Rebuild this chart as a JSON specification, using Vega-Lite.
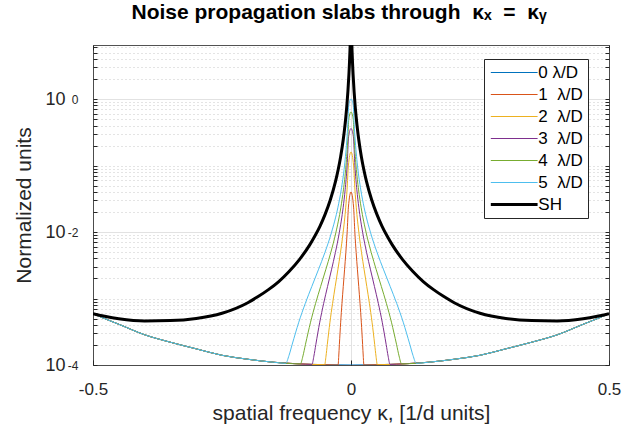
{
"$schema":"https://vega.github.io/schema/vega-lite/v6.json",
"width":516,"height":320,
"autosize":{"type":"none"},
"padding":{"left":93,"top":45,"right":25,"bottom":63},
"background":"white",
"config":{"font":"Liberation Sans","view":{"stroke":null}},
"title":{"text":"Noise propagation slabs through \u00a0κₓ \u00a0= \u00a0κᵧ","fontSize":21,"fontWeight":"bold","color":"#000000","offset":15,"anchor":"middle","dx":-12,"font":"Liberation Sans"},
"data":{"values":[
{"s":"0","k":-0.5,"v":0.00059},{"s":"0","k":-0.475,"v":0.00049},{"s":"0","k":-0.45,"v":0.00041},{"s":"0","k":-0.4,"v":0.000285},{"s":"0","k":-0.35,"v":0.00022},{"s":"0","k":-0.3,"v":0.000175},{"s":"0","k":-0.25,"v":0.00014},{"s":"0","k":-0.2,"v":0.000122},{"s":"0","k":-0.15,"v":0.00011},{"s":"0","k":-0.1,"v":0.000104},{"s":"0","k":-0.05,"v":0.000101},{"s":"0","k":0,"v":0.0001},{"s":"0","k":0.05,"v":0.000101},{"s":"0","k":0.1,"v":0.000104},{"s":"0","k":0.15,"v":0.00011},{"s":"0","k":0.2,"v":0.000122},{"s":"0","k":0.25,"v":0.00014},{"s":"0","k":0.3,"v":0.000175},{"s":"0","k":0.35,"v":0.00022},{"s":"0","k":0.4,"v":0.000285},{"s":"0","k":0.45,"v":0.00041},{"s":"0","k":0.475,"v":0.00049},{"s":"0","k":0.5,"v":0.00059},

{"s":"1","k":-0.5,"v":0.00059},{"s":"1","k":-0.475,"v":0.00049},{"s":"1","k":-0.45,"v":0.00041},{"s":"1","k":-0.4,"v":0.000285},{"s":"1","k":-0.35,"v":0.00022},{"s":"1","k":-0.3,"v":0.000175},{"s":"1","k":-0.25,"v":0.00014},{"s":"1","k":-0.2,"v":0.000122},{"s":"1","k":-0.15,"v":0.00011},{"s":"1","k":-0.1,"v":0.000104},{"s":"1","k":-0.05,"v":0.000101},{"s":"1","k":-0.025,"v":0.0001},{"s":"1","k":-0.02375,"v":0.000136},{"s":"1","k":-0.0225,"v":0.000204},{"s":"1","k":-0.02,"v":0.00044},{"s":"1","k":-0.0175,"v":0.000845},{"s":"1","k":-0.015,"v":0.00152},{"s":"1","k":-0.0125,"v":0.0027},{"s":"1","k":-0.01,"v":0.00491},{"s":"1","k":-0.0075,"v":0.00975},{"s":"1","k":-0.005,"v":0.0237},{"s":"1","k":0,"v":0.04},{"s":"1","k":0.005,"v":0.0237},{"s":"1","k":0.0075,"v":0.00975},{"s":"1","k":0.01,"v":0.00491},{"s":"1","k":0.0125,"v":0.0027},{"s":"1","k":0.015,"v":0.00152},{"s":"1","k":0.0175,"v":0.000845},{"s":"1","k":0.02,"v":0.00044},{"s":"1","k":0.0225,"v":0.000204},{"s":"1","k":0.02375,"v":0.000136},{"s":"1","k":0.025,"v":0.0001},{"s":"1","k":0.05,"v":0.000101},{"s":"1","k":0.1,"v":0.000104},{"s":"1","k":0.15,"v":0.00011},{"s":"1","k":0.2,"v":0.000122},{"s":"1","k":0.25,"v":0.00014},{"s":"1","k":0.3,"v":0.000175},{"s":"1","k":0.35,"v":0.00022},{"s":"1","k":0.4,"v":0.000285},{"s":"1","k":0.45,"v":0.00041},{"s":"1","k":0.475,"v":0.00049},{"s":"1","k":0.5,"v":0.00059},

{"s":"2","k":-0.5,"v":0.00059},{"s":"2","k":-0.475,"v":0.00049},{"s":"2","k":-0.45,"v":0.00041},{"s":"2","k":-0.4,"v":0.000285},{"s":"2","k":-0.35,"v":0.00022},{"s":"2","k":-0.3,"v":0.000175},{"s":"2","k":-0.25,"v":0.00014},{"s":"2","k":-0.2,"v":0.000122},{"s":"2","k":-0.15,"v":0.00011},{"s":"2","k":-0.1,"v":0.000104},{"s":"2","k":-0.051,"v":0.000101},{"s":"2","k":-0.04845,"v":0.000136},{"s":"2","k":-0.0459,"v":0.000204},{"s":"2","k":-0.0408,"v":0.00044},{"s":"2","k":-0.0357,"v":0.000845},{"s":"2","k":-0.0306,"v":0.00152},{"s":"2","k":-0.0255,"v":0.0027},{"s":"2","k":-0.0204,"v":0.00491},{"s":"2","k":-0.0153,"v":0.00975},{"s":"2","k":-0.0102,"v":0.02362},{"s":"2","k":-0.00765,"v":0.04305},{"s":"2","k":-0.0051,"v":0.0986},{"s":"2","k":0,"v":0.16},{"s":"2","k":0.0051,"v":0.0986},{"s":"2","k":0.00765,"v":0.04305},{"s":"2","k":0.0102,"v":0.02362},{"s":"2","k":0.0153,"v":0.00975},{"s":"2","k":0.0204,"v":0.00491},{"s":"2","k":0.0255,"v":0.0027},{"s":"2","k":0.0306,"v":0.00152},{"s":"2","k":0.0357,"v":0.000845},{"s":"2","k":0.0408,"v":0.00044},{"s":"2","k":0.0459,"v":0.000204},{"s":"2","k":0.04845,"v":0.000136},{"s":"2","k":0.051,"v":0.000101},{"s":"2","k":0.1,"v":0.000104},{"s":"2","k":0.15,"v":0.00011},{"s":"2","k":0.2,"v":0.000122},{"s":"2","k":0.25,"v":0.00014},{"s":"2","k":0.3,"v":0.000175},{"s":"2","k":0.35,"v":0.00022},{"s":"2","k":0.4,"v":0.000285},{"s":"2","k":0.45,"v":0.00041},{"s":"2","k":0.475,"v":0.00049},{"s":"2","k":0.5,"v":0.00059},

{"s":"3","k":-0.5,"v":0.00059},{"s":"3","k":-0.475,"v":0.00049},{"s":"3","k":-0.45,"v":0.00041},{"s":"3","k":-0.4,"v":0.000285},{"s":"3","k":-0.35,"v":0.00022},{"s":"3","k":-0.3,"v":0.000175},{"s":"3","k":-0.25,"v":0.00014},{"s":"3","k":-0.2,"v":0.000122},{"s":"3","k":-0.15,"v":0.00011},{"s":"3","k":-0.1,"v":0.000104},{"s":"3","k":-0.0757,"v":0.000102},{"s":"3","k":-0.07192,"v":0.000136},{"s":"3","k":-0.06813,"v":0.000204},{"s":"3","k":-0.06056,"v":0.00044},{"s":"3","k":-0.05299,"v":0.000845},{"s":"3","k":-0.04542,"v":0.00152},{"s":"3","k":-0.03785,"v":0.0027},{"s":"3","k":-0.03028,"v":0.00491},{"s":"3","k":-0.02271,"v":0.00975},{"s":"3","k":-0.01514,"v":0.02362},{"s":"3","k":-0.01136,"v":0.04305},{"s":"3","k":-0.00757,"v":0.0986},{"s":"3","k":-0.00454,"v":0.2764},{"s":"3","k":0,"v":0.36},{"s":"3","k":0.00454,"v":0.2764},{"s":"3","k":0.00757,"v":0.0986},{"s":"3","k":0.01136,"v":0.04305},{"s":"3","k":0.01514,"v":0.02362},{"s":"3","k":0.02271,"v":0.00975},{"s":"3","k":0.03028,"v":0.00491},{"s":"3","k":0.03785,"v":0.0027},{"s":"3","k":0.04542,"v":0.00152},{"s":"3","k":0.05299,"v":0.000845},{"s":"3","k":0.06056,"v":0.00044},{"s":"3","k":0.06813,"v":0.000204},{"s":"3","k":0.07192,"v":0.000136},{"s":"3","k":0.0757,"v":0.000102},{"s":"3","k":0.1,"v":0.000104},{"s":"3","k":0.15,"v":0.00011},{"s":"3","k":0.2,"v":0.000122},{"s":"3","k":0.25,"v":0.00014},{"s":"3","k":0.3,"v":0.000175},{"s":"3","k":0.35,"v":0.00022},{"s":"3","k":0.4,"v":0.000285},{"s":"3","k":0.45,"v":0.00041},{"s":"3","k":0.475,"v":0.00049},{"s":"3","k":0.5,"v":0.00059},

{"s":"4","k":-0.5,"v":0.00059},{"s":"4","k":-0.475,"v":0.00049},{"s":"4","k":-0.45,"v":0.00041},{"s":"4","k":-0.4,"v":0.000285},{"s":"4","k":-0.35,"v":0.00022},{"s":"4","k":-0.3,"v":0.000175},{"s":"4","k":-0.25,"v":0.00014},{"s":"4","k":-0.2,"v":0.000122},{"s":"4","k":-0.15,"v":0.00011},{"s":"4","k":-0.098,"v":0.000104},{"s":"4","k":-0.0931,"v":0.000137},{"s":"4","k":-0.0882,"v":0.000205},{"s":"4","k":-0.0784,"v":0.00044},{"s":"4","k":-0.0686,"v":0.000845},{"s":"4","k":-0.0588,"v":0.00152},{"s":"4","k":-0.049,"v":0.0027},{"s":"4","k":-0.0392,"v":0.00491},{"s":"4","k":-0.0294,"v":0.00975},{"s":"4","k":-0.0196,"v":0.02362},{"s":"4","k":-0.0147,"v":0.04305},{"s":"4","k":-0.0098,"v":0.0986},{"s":"4","k":-0.00588,"v":0.2764},{"s":"4","k":-0.0044,"v":0.49},{"s":"4","k":0,"v":0.64},{"s":"4","k":0.0044,"v":0.49},{"s":"4","k":0.00588,"v":0.2764},{"s":"4","k":0.0098,"v":0.0986},{"s":"4","k":0.0147,"v":0.04305},{"s":"4","k":0.0196,"v":0.02362},{"s":"4","k":0.0294,"v":0.00975},{"s":"4","k":0.0392,"v":0.00491},{"s":"4","k":0.049,"v":0.0027},{"s":"4","k":0.0588,"v":0.00152},{"s":"4","k":0.0686,"v":0.000845},{"s":"4","k":0.0784,"v":0.00044},{"s":"4","k":0.0882,"v":0.000205},{"s":"4","k":0.0931,"v":0.000137},{"s":"4","k":0.098,"v":0.000104},{"s":"4","k":0.15,"v":0.00011},{"s":"4","k":0.2,"v":0.000122},{"s":"4","k":0.25,"v":0.00014},{"s":"4","k":0.3,"v":0.000175},{"s":"4","k":0.35,"v":0.00022},{"s":"4","k":0.4,"v":0.000285},{"s":"4","k":0.45,"v":0.00041},{"s":"4","k":0.475,"v":0.00049},{"s":"4","k":0.5,"v":0.00059},

{"s":"5","k":-0.5,"v":0.00059},{"s":"5","k":-0.475,"v":0.00049},{"s":"5","k":-0.45,"v":0.00041},{"s":"5","k":-0.4,"v":0.000285},{"s":"5","k":-0.35,"v":0.00022},{"s":"5","k":-0.3,"v":0.000175},{"s":"5","k":-0.25,"v":0.00014},{"s":"5","k":-0.2,"v":0.000122},{"s":"5","k":-0.15,"v":0.00011},{"s":"5","k":-0.1265,"v":0.000106},{"s":"5","k":-0.12018,"v":0.000139},{"s":"5","k":-0.11385,"v":0.000206},{"s":"5","k":-0.1012,"v":0.00044},{"s":"5","k":-0.08855,"v":0.000845},{"s":"5","k":-0.0759,"v":0.00152},{"s":"5","k":-0.06325,"v":0.0027},{"s":"5","k":-0.0506,"v":0.00491},{"s":"5","k":-0.03795,"v":0.00975},{"s":"5","k":-0.0253,"v":0.02362},{"s":"5","k":-0.01898,"v":0.04305},{"s":"5","k":-0.01265,"v":0.0986},{"s":"5","k":-0.00759,"v":0.2764},{"s":"5","k":-0.00569,"v":0.49},{"s":"5","k":-0.0044,"v":0.81},{"s":"5","k":0,"v":1.0},{"s":"5","k":0.0044,"v":0.81},{"s":"5","k":0.00569,"v":0.49},{"s":"5","k":0.00759,"v":0.2764},{"s":"5","k":0.01265,"v":0.0986},{"s":"5","k":0.01898,"v":0.04305},{"s":"5","k":0.0253,"v":0.02362},{"s":"5","k":0.03795,"v":0.00975},{"s":"5","k":0.0506,"v":0.00491},{"s":"5","k":0.06325,"v":0.0027},{"s":"5","k":0.0759,"v":0.00152},{"s":"5","k":0.08855,"v":0.000845},{"s":"5","k":0.1012,"v":0.00044},{"s":"5","k":0.11385,"v":0.000206},{"s":"5","k":0.12018,"v":0.000139},{"s":"5","k":0.1265,"v":0.000106},{"s":"5","k":0.15,"v":0.00011},{"s":"5","k":0.2,"v":0.000122},{"s":"5","k":0.25,"v":0.00014},{"s":"5","k":0.3,"v":0.000175},{"s":"5","k":0.35,"v":0.00022},{"s":"5","k":0.4,"v":0.000285},{"s":"5","k":0.45,"v":0.00041},{"s":"5","k":0.475,"v":0.00049},{"s":"5","k":0.5,"v":0.00059},

{"s":"SH","k":-0.5,"v":0.00059},{"s":"SH","k":-0.475,"v":0.000535},{"s":"SH","k":-0.45,"v":0.000497},{"s":"SH","k":-0.4,"v":0.00046},{"s":"SH","k":-0.35,"v":0.000465},{"s":"SH","k":-0.3,"v":0.0005},{"s":"SH","k":-0.25,"v":0.0006},{"s":"SH","k":-0.2,"v":0.000865},{"s":"SH","k":-0.18,"v":0.00107},{"s":"SH","k":-0.16,"v":0.00136},{"s":"SH","k":-0.14,"v":0.0018},{"s":"SH","k":-0.12,"v":0.00255},{"s":"SH","k":-0.1,"v":0.00385},{"s":"SH","k":-0.08,"v":0.0064},{"s":"SH","k":-0.07,"v":0.0087},{"s":"SH","k":-0.06,"v":0.0123},{"s":"SH","k":-0.05,"v":0.0186},{"s":"SH","k":-0.04,"v":0.0306},{"s":"SH","k":-0.03,"v":0.0577},{"s":"SH","k":-0.025,"v":0.0856},{"s":"SH","k":-0.02,"v":0.137},{"s":"SH","k":-0.015,"v":0.246},{"s":"SH","k":-0.0125,"v":0.352},{"s":"SH","k":-0.01,"v":0.537},{"s":"SH","k":-0.008,"v":0.8},{"s":"SH","k":-0.006,"v":1.3},{"s":"SH","k":-0.004,"v":2.38},{"s":"SH","k":-0.003,"v":3.44},{"s":"SH","k":-0.002,"v":5.35},{"s":"SH","k":-0.001,"v":9.1},{"s":"SH","k":0,"v":10},{"s":"SH","k":0.001,"v":9.1},{"s":"SH","k":0.002,"v":5.35},{"s":"SH","k":0.003,"v":3.44},{"s":"SH","k":0.004,"v":2.38},{"s":"SH","k":0.006,"v":1.3},{"s":"SH","k":0.008,"v":0.8},{"s":"SH","k":0.01,"v":0.537},{"s":"SH","k":0.0125,"v":0.352},{"s":"SH","k":0.015,"v":0.246},{"s":"SH","k":0.02,"v":0.137},{"s":"SH","k":0.025,"v":0.0856},{"s":"SH","k":0.03,"v":0.0577},{"s":"SH","k":0.04,"v":0.0306},{"s":"SH","k":0.05,"v":0.0186},{"s":"SH","k":0.06,"v":0.0123},{"s":"SH","k":0.07,"v":0.0087},{"s":"SH","k":0.08,"v":0.0064},{"s":"SH","k":0.1,"v":0.00385},{"s":"SH","k":0.12,"v":0.00255},{"s":"SH","k":0.14,"v":0.0018},{"s":"SH","k":0.16,"v":0.00136},{"s":"SH","k":0.18,"v":0.00107},{"s":"SH","k":0.2,"v":0.000865},{"s":"SH","k":0.25,"v":0.0006},{"s":"SH","k":0.3,"v":0.0005},{"s":"SH","k":0.35,"v":0.000465},{"s":"SH","k":0.4,"v":0.00046},{"s":"SH","k":0.45,"v":0.000497},{"s":"SH","k":0.475,"v":0.000535},{"s":"SH","k":0.5,"v":0.00059}
]},
"resolve":{"axis":{"x":"independent","y":"independent"}},
"layer":[
{"transform":[{"filter":"datum.s == '0'"}],
 "mark":{"type":"line","strokeWidth":1,"interpolate":"monotone","clip":true},
 "encoding":{
  "x":{"field":"k","type":"quantitative","scale":{"domain":[-0.5,0.5],"nice":false,"zero":false},"axis":null},
  "y":{"field":"v","type":"quantitative","scale":{"type":"log","domain":[0.0001,6.5],"nice":false},
   "axis":{"orient":"left","values":[0.0001,0.01,1],"labelExpr":"datum.value == 1 ? '0' : (datum.value == 0.01 ? '-2' : '-4')","labelOverlap":false,"labelFontSize":12,"labelColor":"#262626","labelPadding":15,"labelDy":-6,"ticks":false,"domain":false,"grid":false,"title":null}},
  "color":{"field":"s","type":"nominal","scale":{"domain":["0","1","2","3","4","5","SH"],"range":["#0072BD","#D95319","#EDB120","#7E2F8E","#77AC30","#4DBEEE","#000000"]}}
 }},
{"transform":[{"filter":"datum.s != 'SH' && datum.s != '0'"}],
 "mark":{"type":"line","strokeWidth":1,"interpolate":"monotone","clip":true},
 "encoding":{
  "x":{"field":"k","type":"quantitative","scale":{"domain":[-0.5,0.5],"nice":false,"zero":false},
   "axis":{"orient":"bottom","values":[-0.5,0,0.5],"labelExpr":"datum.value == 0 ? '0' : (datum.value < 0 ? '-0.5' : '0.5')","labelFlush":false,"labelFontSize":17,"labelColor":"#262626","labelPadding":21,"tickSize":-5,"tickColor":"#262626","domainColor":"#262626","domainWidth":0.8,"grid":true,"gridColor":"#e2e2e2","title":"spatial frequency κ, [1/d units]","titleFontSize":21,"titleFontWeight":"normal","titleColor":"#262626","titlePadding":5}},
  "y":{"field":"v","type":"quantitative","scale":{"type":"log","domain":[0.0001,6.5],"nice":false},
   "axis":{"orient":"left","values":[0.0001,0.0002,0.0003,0.0004,0.0005,0.0006,0.0007,0.0008,0.0009,0.001,0.002,0.003,0.004,0.005,0.006,0.007,0.008,0.009,0.01,0.02,0.03,0.04,0.05,0.06,0.07,0.08,0.09,0.1,0.2,0.3,0.4,0.5,0.6,0.7,0.8,0.9,1,2,3,4,5,6],
    "labelExpr":"datum.value == 1 || datum.value == 0.01 || datum.value == 0.0001 ? '10' : ''","labelOverlap":false,"labelFontSize":18,"labelColor":"#262626","labelPadding":32,"labelDy":3,"tickSize":-4,"tickColor":"#262626","domainColor":"#262626","domainWidth":0.8,"grid":true,
    "gridColor":{"condition":{"test":"datum.value == 1 || datum.value == 0.01 || datum.value == 0.0001","value":"#e2e2e2"},"value":"#c8c8c8"},
    "gridDash":{"condition":{"test":"datum.value == 1 || datum.value == 0.01 || datum.value == 0.0001","value":[]},"value":[1,3]},
    "title":"Normalized units","titleFontSize":21,"titleFontWeight":"normal","titleColor":"#262626","titlePadding":10}},
  "color":{"field":"s","type":"nominal","scale":{"domain":["0","1","2","3","4","5","SH"],"range":["#0072BD","#D95319","#EDB120","#7E2F8E","#77AC30","#4DBEEE","#000000"]},
   "legend":{"title":null,"orient":"none","legendX":391,"legendY":14,"fillColor":"white","strokeColor":"#262626","padding":5,"symbolType":"M-2.5,0H2.5","symbolSize":350,"symbolStrokeWidth":1.2,"symbolOffset":16.7,"labelOffset":15.6,"rowPadding":4,"labelFontSize":17,"labelColor":"#000000","labelExpr":"datum.label == 'SH' ? 'SH' : (datum.label == '0' ? '0 λ/D' : datum.label + ' \u00a0λ/D')",
    "encode":{"symbols":{"update":{"stroke":{"scale":"color","field":"value"},"fill":{"value":"transparent"},"strokeWidth":{"signal":"datum.value == 'SH' ? 3 : 1.2"}}}}}}
 }},
{"transform":[{"filter":"datum.s == 'SH'"}],
 "mark":{"type":"line","strokeWidth":3,"interpolate":"monotone","clip":true},
 "encoding":{
  "x":{"field":"k","type":"quantitative","scale":{"domain":[-0.5,0.5],"nice":false,"zero":false},
   "axis":{"orient":"top","values":[-0.5,0,0.5],"labels":false,"tickSize":-5,"tickColor":"#262626","domainColor":"#262626","domainWidth":0.8,"grid":false,"title":null}},
  "y":{"field":"v","type":"quantitative","scale":{"type":"log","domain":[0.0001,6.5],"nice":false},
   "axis":{"orient":"right","values":[0.0001,0.0002,0.0003,0.0004,0.0005,0.0006,0.0007,0.0008,0.0009,0.001,0.002,0.003,0.004,0.005,0.006,0.007,0.008,0.009,0.01,0.02,0.03,0.04,0.05,0.06,0.07,0.08,0.09,0.1,0.2,0.3,0.4,0.5,0.6,0.7,0.8,0.9,1,2,3,4,5,6],"labels":false,"tickSize":-4,"tickColor":"#262626","domainColor":"#262626","domainWidth":0.8,"grid":false,"title":null}},
  "color":{"field":"s","type":"nominal","scale":{"domain":["0","1","2","3","4","5","SH"],"range":["#0072BD","#D95319","#EDB120","#7E2F8E","#77AC30","#4DBEEE","#000000"]}}
 }}
]
}
